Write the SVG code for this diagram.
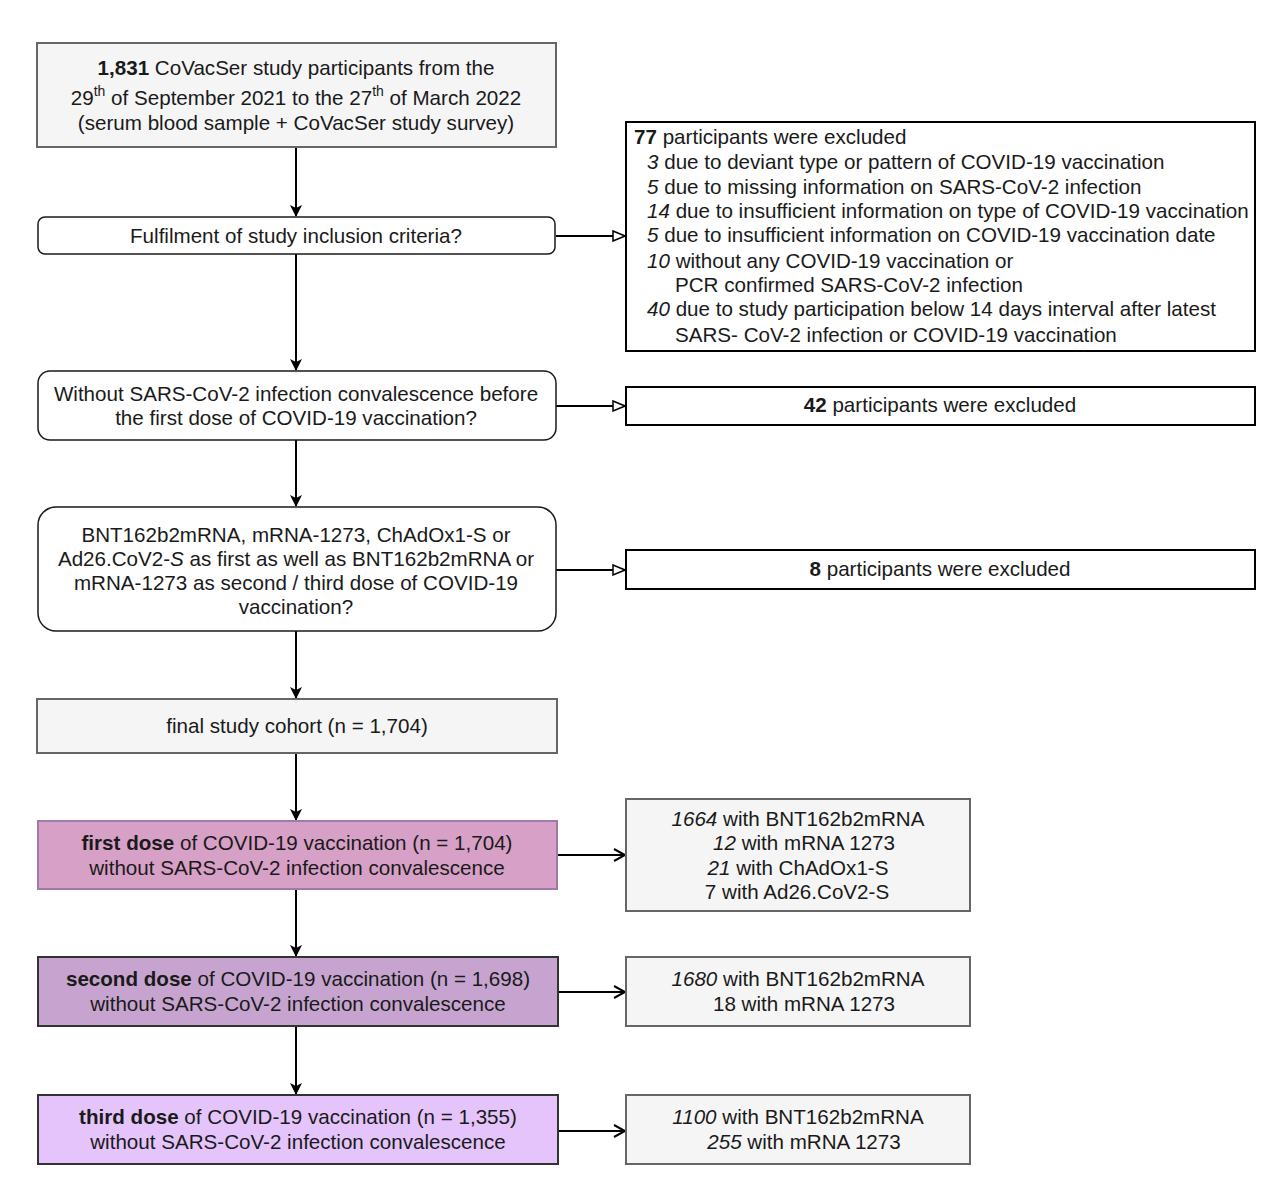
<svg xmlns="http://www.w3.org/2000/svg" width="1280" height="1191" viewBox="0 0 1280 1191">
<defs>
<style>
text{font-family:"Liberation Sans",Arial,sans-serif;font-size:20.6px;fill:#1a1a1a}
.c{text-anchor:middle}
.b{font-weight:bold}
.i{font-style:italic}
.gray{fill:#f5f5f5;stroke:#666;stroke-width:2}
.dec{fill:#fff;stroke:#1a1a1a;stroke-width:1.5}
.exc{fill:#fff;stroke:#000;stroke-width:2}
.ln{fill:none;stroke:#000;stroke-width:2}
</style>
<marker id="solid" viewBox="0 0 12 12" refX="11" refY="6" markerWidth="12" markerHeight="12" markerUnits="userSpaceOnUse" orient="auto">
<path d="M0,0 L12,6 L0,12 L3,6 Z" fill="#000"/>
</marker>
<marker id="hollow" viewBox="0 0 14 12" refX="13" refY="6" markerWidth="14" markerHeight="12" markerUnits="userSpaceOnUse" orient="auto">
<path d="M1,1 L13,6 L1,11 Z" fill="#fff" stroke="#000" stroke-width="1.5"/>
</marker>
<marker id="open" viewBox="0 0 14 14" refX="12" refY="7" markerWidth="14" markerHeight="14" markerUnits="userSpaceOnUse" orient="auto">
<path d="M1,1 L12,7 L1,13" fill="none" stroke="#000" stroke-width="2"/>
</marker>
</defs>
<rect width="1280" height="1191" fill="#fff"/>

<g id="connectors">
<line class="ln" x1="296" y1="147" x2="296" y2="216" marker-end="url(#solid)"/>
<line class="ln" x1="296" y1="254" x2="296" y2="370" marker-end="url(#solid)"/>
<line class="ln" x1="296" y1="440" x2="296" y2="506" marker-end="url(#solid)"/>
<line class="ln" x1="296" y1="631" x2="296" y2="698" marker-end="url(#solid)"/>
<line class="ln" x1="296" y1="753" x2="296" y2="820" marker-end="url(#solid)"/>
<line class="ln" x1="296" y1="889" x2="296" y2="956" marker-end="url(#solid)"/>
<line class="ln" x1="296" y1="1026" x2="296" y2="1094" marker-end="url(#solid)"/>
<line class="ln" x1="556" y1="236" x2="625" y2="236" marker-end="url(#hollow)"/>
<line class="ln" x1="556" y1="406" x2="625" y2="406" marker-end="url(#hollow)"/>
<line class="ln" x1="556" y1="570" x2="625" y2="570" marker-end="url(#hollow)"/>
<line class="ln" x1="557" y1="855" x2="625" y2="855" marker-end="url(#open)"/>
<line class="ln" x1="558" y1="992" x2="625" y2="992" marker-end="url(#open)"/>
<line class="ln" x1="558" y1="1131" x2="625" y2="1131" marker-end="url(#open)"/>
</g>

<g id="n1">
<rect class="gray" x="37" y="43" width="519" height="104"/>
<text class="c" x="296" y="75"><tspan class="b">1,831</tspan> CoVacSer study participants from the</text>
<text class="c" x="296" y="105">29<tspan dy="-9" font-size="14">th</tspan><tspan dy="9"> of September 2021 to the 27</tspan><tspan dy="-9" font-size="14">th</tspan><tspan dy="9"> of March 2022</tspan></text>
<text class="c" x="296" y="130">(serum blood sample + CoVacSer study survey)</text>
</g>

<g id="n2">
<rect class="dec" x="38" y="217" width="517" height="37" rx="7"/>
<text class="c" x="296" y="243">Fulfilment of study inclusion criteria?</text>
</g>

<g id="x1">
<rect class="exc" x="626" y="122" width="629" height="229"/>
<text x="634" y="144"><tspan class="b">77</tspan> participants were excluded</text>
<text x="647" y="169"><tspan class="i">3</tspan>  due to deviant type or pattern of COVID-19 vaccination</text>
<text x="647" y="194"><tspan class="i">5</tspan> due to missing information on SARS-CoV-2 infection</text>
<text x="647" y="218"><tspan class="i">14</tspan> due to insufficient information on type of COVID-19 vaccination</text>
<text x="647" y="242"><tspan class="i">5</tspan> due to insufficient information on COVID-19 vaccination date</text>
<text x="647" y="268"><tspan class="i">10</tspan> without any COVID-19 vaccination or</text>
<text x="675" y="292">PCR confirmed SARS-CoV-2 infection</text>
<text x="647" y="316"><tspan class="i">40</tspan> due to study participation below 14 days interval after latest</text>
<text x="675" y="342">SARS- CoV-2 infection or COVID-19 vaccination</text>
</g>

<g id="n3">
<rect class="dec" x="38" y="371" width="518" height="69" rx="12"/>
<text class="c" x="296" y="401">Without SARS-CoV-2 infection convalescence before</text>
<text class="c" x="296" y="425">the first dose of COVID-19 vaccination?</text>
</g>

<g id="x2">
<rect class="exc" x="626" y="387" width="629" height="38"/>
<text class="c" x="940" y="412"><tspan class="b">42</tspan> participants were excluded</text>
</g>

<g id="n4">
<rect class="dec" x="38" y="507" width="518" height="124" rx="18"/>
<text class="c" x="296" y="542">BNT162b2mRNA, mRNA-1273, ChAdOx1-S or</text>
<text class="c" x="296" y="566">Ad26.CoV2-<tspan class="i">S</tspan> as first as well as BNT162b2mRNA or</text>
<text class="c" x="296" y="590">mRNA-1273 as second / third dose of COVID-19</text>
<text class="c" x="296" y="614">vaccination?</text>
</g>

<g id="x3">
<rect class="exc" x="626" y="550" width="629" height="39"/>
<text class="c" x="940" y="576"><tspan class="b">8</tspan> participants were excluded</text>
</g>

<g id="n5">
<rect class="gray" x="37" y="699" width="520" height="54"/>
<text class="c" x="297" y="733">final study cohort (n = 1,704)</text>
</g>

<g id="n6">
<rect x="38" y="821" width="519" height="68" fill="#d7a0c6" stroke="#a07aab" stroke-width="2"/>
<text class="c" x="297" y="850"><tspan class="b">first dose</tspan> of COVID-19 vaccination (n = 1,704)</text>
<text class="c" x="297" y="875">without SARS-CoV-2 infection convalescence</text>
</g>

<g id="r1">
<rect class="gray" x="626" y="799" width="344" height="112"/>
<text class="c" x="798" y="826"><tspan class="i">1664</tspan> with BNT162b2mRNA</text>
<text class="c" x="804" y="850"><tspan class="i">12</tspan> with mRNA 1273</text>
<text class="c" x="798" y="875"><tspan class="i">21</tspan> with ChAdOx1-S</text>
<text class="c" x="797" y="899">7 with Ad26.CoV2-S</text>
</g>

<g id="n7">
<rect x="38" y="957" width="520" height="69" fill="#c6a4cf" stroke="#333" stroke-width="2"/>
<text class="c" x="298" y="986"><tspan class="b">second dose</tspan> of COVID-19 vaccination (n = 1,698)</text>
<text class="c" x="298" y="1011">without SARS-CoV-2 infection convalescence</text>
</g>

<g id="r2">
<rect class="gray" x="626" y="957" width="344" height="69"/>
<text class="c" x="798" y="986"><tspan class="i">1680</tspan> with BNT162b2mRNA</text>
<text class="c" x="804" y="1011">18 with mRNA 1273</text>
</g>

<g id="n8">
<rect x="38" y="1095" width="520" height="69" fill="#e4c4fa" stroke="#333" stroke-width="2"/>
<text class="c" x="298" y="1124"><tspan class="b">third dose</tspan> of COVID-19 vaccination (n = 1,355)</text>
<text class="c" x="298" y="1149">without SARS-CoV-2 infection convalescence</text>
</g>

<g id="r3">
<rect class="gray" x="626" y="1095" width="344" height="69"/>
<text class="c" x="798" y="1124"><tspan class="i">1100</tspan> with BNT162b2mRNA</text>
<text class="c" x="804" y="1149"><tspan class="i">255</tspan> with mRNA 1273</text>
</g>
</svg>
